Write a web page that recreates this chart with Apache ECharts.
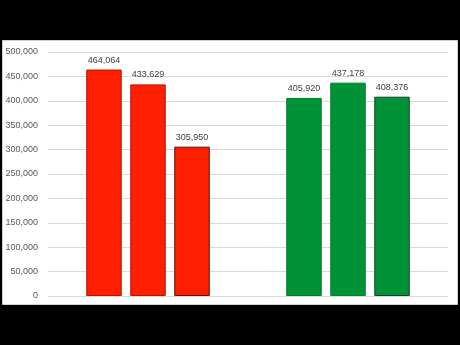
<!DOCTYPE html>
<html><head><meta charset="utf-8">
<script src="https://cdn.jsdelivr.net/npm/echarts@6/dist/echarts.min.js"></script>
<style>html,body{margin:0;padding:0;background:#000;}#c{width:460px;height:345px;}</style>
</head><body><div id="c"></div>
<script>
var categories = ['Group A', 'Group B'];
var series1 = [464064, 405920];
var series2 = [433629, 437178];
var series3 = [305950, 408376];
var yTicks = [0, 50000, 100000, 150000, 200000, 250000, 300000, 350000, 400000, 450000, 500000];

var fills = ['#ff1e00', '#009236'];
var borders = [['#b81400', '#b81400', '#5a1000'], ['#007a2c', '#00802f', '#17402a']];

function fmt(v) { return String(v).replace(/\B(?=(\d{3})+(?!\d))/g, ','); }

function mk(vals, si) {
  return {
    type: 'bar', barWidth: 35.5, barGap: '24%',
    data: vals.map(function (v, i) {
      return { value: v, itemStyle: { color: fills[i], borderColor: borders[i][si], borderWidth: 1 } };
    }),
    label: { show: true, position: 'top', distance: 5, color: '#404040', fontSize: 9, fontFamily: 'Liberation Sans',
      formatter: function (p) { return fmt(p.value); } }
  };
}

var chart = echarts.init(document.getElementById('c'), null, { renderer: 'canvas' });
chart.setOption({
  backgroundColor: '#000',
  animation: false,
  graphic: [{ type: 'rect', z: -10, shape: { x: 2.5, y: 40.5, width: 455, height: 264 },
    style: { fill: '#fff', stroke: '#d0d0d0', lineWidth: 1 } }],
  grid: { left: 48, right: 12, top: 52, bottom: 49 },
  xAxis: { type: 'category', data: categories, axisLabel: { show: false }, axisTick: { show: false },
    axisLine: { show: true, lineStyle: { color: '#d9d9d9' } } },
  yAxis: { type: 'value', min: yTicks[0], max: yTicks[yTicks.length - 1], interval: yTicks[1] - yTicks[0],
    axisLine: { show: false }, axisTick: { show: false },
    splitLine: { lineStyle: { color: '#d9d9d9' } },
    axisLabel: { color: '#595959', fontSize: 9, fontFamily: 'Liberation Sans', margin: 10, formatter: fmt } },
  series: [mk(series1, 0), mk(series2, 1), mk(series3, 2)]
});
</script></body></html>
